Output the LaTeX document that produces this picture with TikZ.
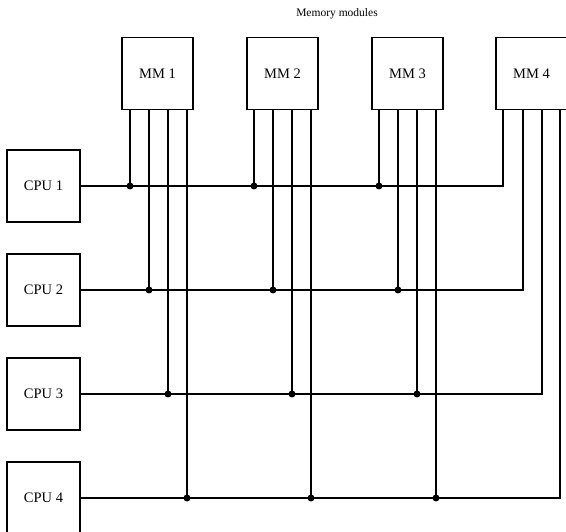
\documentclass[tikz,border=0pt]{standalone}
\usepackage{fontspec}
\setmainfont{Liberation Serif}
\usetikzlibrary{positioning,calc}

\begin{document}
\begin{tikzpicture}[
  x=1pt, y=-1pt,
  font=\fontsize{14.5}{16}\selectfont,
  line width=1.9pt,
  mm/.style={draw, line width=1.9pt, outer sep=0pt, minimum width=71pt, minimum height=72pt, inner sep=0pt},
  cpu/.style={draw, line width=1.9pt, outer sep=0pt, minimum width=73pt, minimum height=72pt, inner sep=0pt},
  tap/.style={circle, fill, inner sep=0pt, minimum size=7pt},
  hd/.style={font=\fontsize{11.5}{13}\selectfont},
]
\useasboundingbox (0,0) rectangle (566,532);

% --- memory modules, one row ----------------------------------------------
\node[hd] (title) at (337,14) {Memory modules};
\node[mm] (mm1) at (157.5,73.5) {MM 1};
\node[mm, right=54pt of mm1] (mm2) {MM 2};
\node[mm, right=54pt of mm2] (mm3) {MM 3};
\node[mm, right=53pt of mm3] (mm4) {MM 4};

% --- processors, one column -----------------------------------------------
\node[cpu] (cpu1) at (43.5,186) {CPU 1};
\node[cpu, below=32pt of cpu1] (cpu2) {CPU 2};
\node[cpu, below=32pt of cpu2] (cpu3) {CPU 3};
\node[cpu, below=32pt of cpu3] (cpu4) {CPU 4};

% --- CPU buses, each ends in a line of MM 4 -------------------------------
\draw (cpu1.east) -- ([xshift=7pt]mm4.south west |- cpu1.east) -- ([xshift=7pt]mm4.south west);
\draw (cpu2.east) -- ([xshift=27pt]mm4.south west |- cpu2.east) -- ([xshift=27pt]mm4.south west);
\draw (cpu3.east) -- ([xshift=46pt]mm4.south west |- cpu3.east) -- ([xshift=46pt]mm4.south west);
\draw (cpu4.east) -- ([xshift=64pt]mm4.south west |- cpu4.east) -- ([xshift=64pt]mm4.south west);

% --- MM 1 -----------------------------------------------------------------
\draw ([xshift=8pt]mm1.south west) -- ([xshift=8pt]mm1.south west |- cpu1.east) node[tap] (t11) {};
\draw ([xshift=27pt]mm1.south west) -- ([xshift=27pt]mm1.south west |- cpu2.east) node[tap] (t12) {};
\draw ([xshift=46pt]mm1.south west) -- ([xshift=46pt]mm1.south west |- cpu3.east) node[tap] (t13) {};
\draw ([xshift=65pt]mm1.south west) -- ([xshift=65pt]mm1.south west |- cpu4.east) node[tap] (t14) {};

% --- MM 2 -----------------------------------------------------------------
\draw ([xshift=7pt]mm2.south west) -- ([xshift=7pt]mm2.south west |- cpu1.east) node[tap] (t21) {};
\draw ([xshift=26pt]mm2.south west) -- ([xshift=26pt]mm2.south west |- cpu2.east) node[tap] (t22) {};
\draw ([xshift=45pt]mm2.south west) -- ([xshift=45pt]mm2.south west |- cpu3.east) node[tap] (t23) {};
\draw ([xshift=64pt]mm2.south west) -- ([xshift=64pt]mm2.south west |- cpu4.east) node[tap] (t24) {};

% --- MM 3 -----------------------------------------------------------------
\draw ([xshift=7pt]mm3.south west) -- ([xshift=7pt]mm3.south west |- cpu1.east) node[tap] (t31) {};
\draw ([xshift=26pt]mm3.south west) -- ([xshift=26pt]mm3.south west |- cpu2.east) node[tap] (t32) {};
\draw ([xshift=45pt]mm3.south west) -- ([xshift=45pt]mm3.south west |- cpu3.east) node[tap] (t33) {};
\draw ([xshift=64pt]mm3.south west) -- ([xshift=64pt]mm3.south west |- cpu4.east) node[tap] (t34) {};
\end{tikzpicture}
\end{document}
